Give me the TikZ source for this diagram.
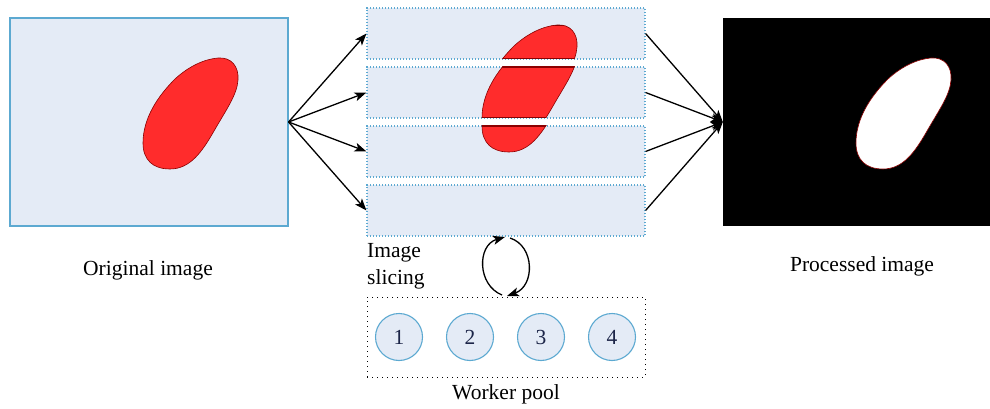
\documentclass[tikz,border=0pt]{standalone}
\usepackage{fontspec}
\setmainfont{Liberation Serif}
\usetikzlibrary{arrows.meta}

\definecolor{paleblue}{HTML}{E4EBF6}
\definecolor{edgeblue}{HTML}{5CA9D1}
\definecolor{blobred}{HTML}{FF2C2C}
\definecolor{blobedge}{HTML}{8B0000}
\definecolor{digitnavy}{HTML}{1C2548}

% outline of the object, in the frame of the original image
\def\blobpath{(218,58) .. controls (231,57) and (239,66) .. (238,80)
  .. controls (237,95) and (226,110) .. (214,131)
  .. controls (202,152) and (190,169) .. (170,169)
  .. controls (153,169) and (143,160) .. (143,143)
  .. controls (143,118) and (158,96) .. (175,79)
  .. controls (189,66) and (205,59) .. (218,58) -- cycle}

% one horizontal band of the object, outlined along its cuts as well
\newcommand{\blobband}[2]{%
  \begin{scope}
    \clip (0,#1) rectangle (990,#2);
    \draw[redblob] \blobpath;
    \begin{scope}
      \clip \blobpath;
      \draw[blobedge, line width=1.2pt] (0,#1) rectangle (990,#2);
    \end{scope}
  \end{scope}}

\tikzset{
  imgbox/.style={draw=edgeblue, fill=paleblue, line width=1.1pt,
    minimum width=278pt, minimum height=208pt, inner sep=0pt},
  slicebox/.style={draw=edgeblue, fill=paleblue, line width=1.1pt,
    dash pattern=on 1.2pt off 1.8pt,
    minimum width=278pt, minimum height=51pt, inner sep=0pt},
  poolbox/.style={draw=black, line width=1pt, dash pattern=on 1pt off 4pt,
    minimum width=278pt, minimum height=80pt, inner sep=0pt},
  worker/.style={circle, draw=edgeblue, fill=paleblue, line width=1.1pt,
    minimum size=47pt, inner sep=0pt, text=digitnavy},
  flow/.style={-{Stealth[length=12pt,width=9pt,inset=3pt]}, line width=1.3pt},
  cyc/.style={-{Stealth[length=12pt,width=9pt,inset=3pt]}, line width=1.3pt},
  label/.style={inner sep=0pt},
  redblob/.style={fill=blobred, draw=blobedge, line width=0.6pt},
}

\begin{document}
\begin{tikzpicture}[x=1pt, y=-1pt,
  every node/.style={font=\fontsize{21.5}{27}\selectfont}]
\useasboundingbox (0,0) rectangle (990,409);

% original image
\node[imgbox] (orig) at (149,122) {};
\draw[redblob] \blobpath;
\node[label] (origlabel) at (148,270) {Original image};

% slices
\node[slicebox] (s1) at (506,33.5) {};
\node[slicebox] (s2) at (506,92.5) {};
\node[slicebox] (s3) at (506,151.5) {};
\node[slicebox] (s4) at (506,210.5) {};

% the object cut into bands, each band moved down with its slice
\begin{scope}[shift={(339,-33)}]
  \blobband{58}{92}
  \begin{scope}[shift={(0,8)}]
    \blobband{92}{143}
  \end{scope}
  \begin{scope}[shift={(0,16)}]
    \blobband{143}{194}
  \end{scope}
\end{scope}

% processed image
\node[fill=black, minimum width=278pt, minimum height=208pt, inner sep=0pt] (proc) at (862,122) {};
\begin{scope}[shift={(713,0)}]
  \draw[fill=white, draw=blobedge, line width=0.6pt] \blobpath;
\end{scope}
\node[label] (proclabel) at (862,266) {Processed image};

% split and merge
\foreach \s in {s1,s2,s3,s4} {
  \draw[flow] (orig.east) -- (\s.west);
  \draw[flow] (\s.east) -- (proc.west);
}

% worker pool
\node[poolbox] (pool) at (506,337) {};
\node[worker] (w1) at (399,337) {1};
\node[worker] (w2) at (470,337) {2};
\node[worker] (w3) at (541,337) {3};
\node[worker] (w4) at (612,337) {4};
\node[label] (poollabel) at (506,394) {Worker pool};

\node[label, anchor=north west, align=left] (slicing) at (367,243) {Image\\slicing};

% exchange between slices and workers
\coordinate (ctop) at (506,237);
\coordinate (cbot) at (506,295);
\draw[cyc] ([xshift=-4pt]cbot) .. controls (477,285) and (477,245) .. ([xshift=-1pt]ctop);
\draw[cyc] ([xshift=4pt,yshift=-1pt]ctop) .. controls (535,246) and (535,286) .. ([xshift=1pt,yshift=-1pt]cbot);
\end{tikzpicture}
\end{document}
